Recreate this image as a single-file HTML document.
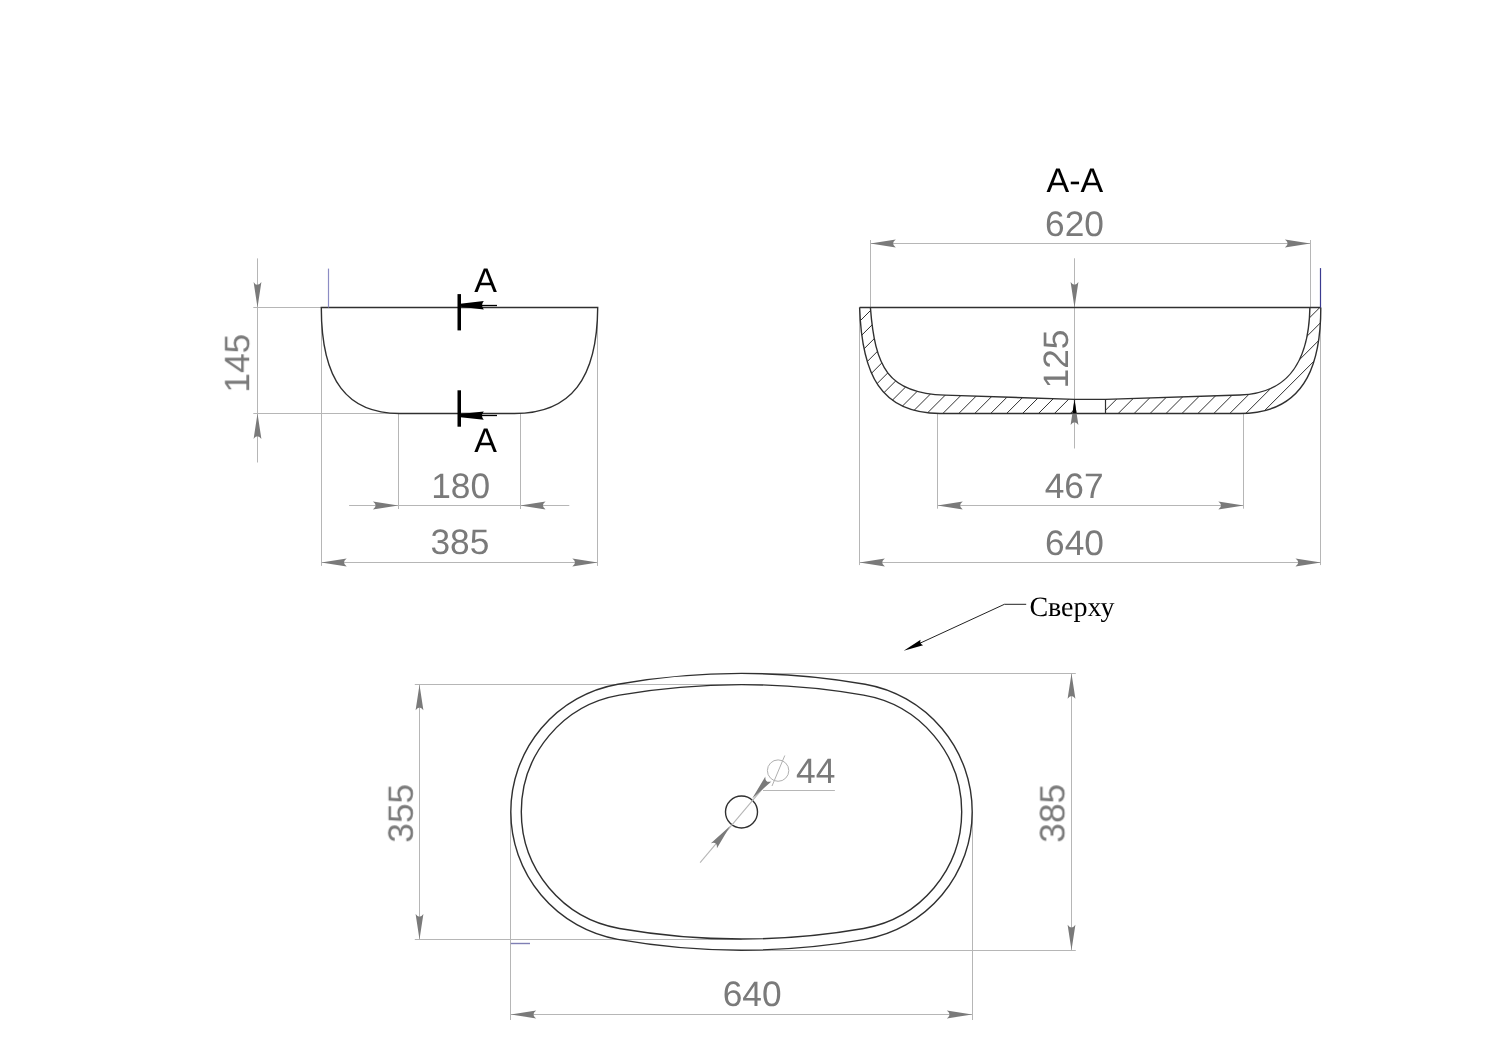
<!DOCTYPE html>
<html><head><meta charset="utf-8"><title>Drawing</title>
<style>html,body{margin:0;padding:0;background:#fff;width:1489px;height:1052px;overflow:hidden;font-family:"Liberation Sans",sans-serif}svg{display:block}</style>
</head><body>
<svg width="1489" height="1052" viewBox="0 0 1489 1052" text-rendering="geometricPrecision">
<line x1="253.3" y1="307.5" x2="321.3" y2="307.5" stroke="#b6b6b6" stroke-width="1.0"/>
<line x1="253.3" y1="413.5" x2="396" y2="413.5" stroke="#b6b6b6" stroke-width="1.0"/>
<line x1="257.5" y1="258.4" x2="257.5" y2="462.5" stroke="#b6b6b6" stroke-width="1.0"/>
<path d="M257.5,307.5 L253.6,282.1 Q257.5,287.6 261.4,282.1 Z" fill="#7a7a7a"/>
<path d="M257.5,413.5 L261.4,438.9 Q257.5,433.4 253.6,438.9 Z" fill="#7a7a7a"/>
<line x1="398.5" y1="413.5" x2="398.5" y2="509" stroke="#b6b6b6" stroke-width="1.0"/>
<line x1="520.5" y1="413.5" x2="520.5" y2="509" stroke="#b6b6b6" stroke-width="1.0"/>
<line x1="349.1" y1="505.5" x2="569.3" y2="505.5" stroke="#b6b6b6" stroke-width="1.0"/>
<path d="M398.3,505.5 L372.9,509.4 Q378.4,505.5 372.9,501.6 Z" fill="#7a7a7a"/>
<path d="M520.2,505.5 L545.6,501.6 Q540.1,505.5 545.6,509.4 Z" fill="#7a7a7a"/>
<line x1="321.5" y1="307.5" x2="321.5" y2="565.9" stroke="#b6b6b6" stroke-width="1.0"/>
<line x1="597.5" y1="307.5" x2="597.5" y2="565.9" stroke="#b6b6b6" stroke-width="1.0"/>
<line x1="321.3" y1="562.5" x2="597.7" y2="562.5" stroke="#b6b6b6" stroke-width="1.0"/>
<path d="M321.3,562.5 L346.7,558.6 Q341.2,562.5 346.7,566.4 Z" fill="#7a7a7a"/>
<path d="M597.7,562.5 L572.3,566.4 Q577.8,562.5 572.3,558.6 Z" fill="#7a7a7a"/>
<path d="M321.3,307.5 L597.7,307.5 C597.25,378.33 571.32,413.5 514.37,413.5 L399.51,413.5 C347.6,413.5 321.3,381.34 321.3,307.5 Z" fill="none" stroke="#303030" stroke-width="1.4"/>
<line x1="328.5" y1="268.6" x2="328.5" y2="307.5" stroke="#8c8cc4" stroke-width="1.2"/>
<rect x="457.5" y="294.1" width="3.5" height="36.3" fill="#000"/>
<path d="M458,303.9 L483.8,301 Q480.3,305.2 483.8,309.4 L458,306.5 Z" fill="#000"/>
<line x1="478" y1="305.5" x2="497" y2="305.5" stroke="#000" stroke-width="1.3"/>
<rect x="457.5" y="390.3" width="3.5" height="36.4" fill="#000"/>
<path d="M458,414.3 L483.8,411.4 Q480.3,415.6 483.8,419.8 L458,416.9 Z" fill="#000"/>
<line x1="478" y1="415.5" x2="497" y2="415.5" stroke="#000" stroke-width="1.3"/>
<line x1="870.5" y1="240" x2="870.5" y2="307.5" stroke="#b6b6b6" stroke-width="1.0"/>
<line x1="1310.5" y1="240" x2="1310.5" y2="307.5" stroke="#b6b6b6" stroke-width="1.0"/>
<line x1="870.4" y1="243.5" x2="1310.3" y2="243.5" stroke="#b6b6b6" stroke-width="1.0"/>
<path d="M870.4,243.5 L895.8,239.6 Q890.3,243.5 895.8,247.4 Z" fill="#7a7a7a"/>
<path d="M1310.3,243.5 L1284.9,247.4 Q1290.4,243.5 1284.9,239.6 Z" fill="#7a7a7a"/>
<line x1="859.5" y1="307.5" x2="859.5" y2="565.1" stroke="#b6b6b6" stroke-width="1.0"/>
<line x1="1320.5" y1="307.5" x2="1320.5" y2="565.1" stroke="#b6b6b6" stroke-width="1.0"/>
<line x1="859.5" y1="562.5" x2="1320.9" y2="562.5" stroke="#b6b6b6" stroke-width="1.0"/>
<path d="M859.5,562.5 L884.9,558.6 Q879.4,562.5 884.9,566.4 Z" fill="#7a7a7a"/>
<path d="M1320.9,562.5 L1295.5,566.4 Q1301,562.5 1295.5,558.6 Z" fill="#7a7a7a"/>
<line x1="937.5" y1="413.3" x2="937.5" y2="508.7" stroke="#b6b6b6" stroke-width="1.0"/>
<line x1="1243.5" y1="413.3" x2="1243.5" y2="508.7" stroke="#b6b6b6" stroke-width="1.0"/>
<line x1="937.4" y1="505.5" x2="1243.7" y2="505.5" stroke="#b6b6b6" stroke-width="1.0"/>
<path d="M937.4,505.5 L962.8,501.6 Q957.3,505.5 962.8,509.4 Z" fill="#7a7a7a"/>
<path d="M1243.7,505.5 L1218.3,509.4 Q1223.8,505.5 1218.3,501.6 Z" fill="#7a7a7a"/>
<line x1="1074.5" y1="258.3" x2="1074.5" y2="448.5" stroke="#b6b6b6" stroke-width="1.0"/>
<path d="M1074.5,307.5 L1070.6,282.1 Q1074.5,287.6 1078.4,282.1 Z" fill="#7a7a7a"/>
<clipPath id="sec"><path d="M859.6,307.5 C861.89,374.1 880.16,413.5 940,413.5 L1240,413.5 C1311.29,413.5 1320.8,353.76 1320.8,307.5 L1309.9,307.5 C1308.7,369.72 1282,393.74 1240,395 L1105.6,399.4 L1074.7,399.4 L945,395.1 C887.65,393.38 875.03,367.26 870.4,307.5 Z"/></clipPath>
<g clip-path="url(#sec)"><path d="M761,420 L891,290 M776.94,420 L906.94,290 M792.88,420 L922.88,290 M808.82,420 L938.82,290 M824.76,420 L954.76,290 M840.7,420 L970.7,290 M856.64,420 L986.64,290 M872.58,420 L1002.58,290 M888.52,420 L1018.52,290 M904.46,420 L1034.46,290 M920.4,420 L1050.4,290 M936.34,420 L1066.34,290 M952.28,420 L1082.28,290 M968.22,420 L1098.22,290 M984.16,420 L1114.16,290 M1000.1,420 L1130.1,290 M1016.04,420 L1146.04,290 M1031.98,420 L1161.98,290 M1047.92,420 L1177.92,290 M1063.86,420 L1193.86,290 M1079.8,420 L1209.8,290 M1095.74,420 L1225.74,290 M1111.68,420 L1241.68,290 M1127.62,420 L1257.62,290 M1143.56,420 L1273.56,290 M1159.5,420 L1289.5,290 M1175.44,420 L1305.44,290 M1191.38,420 L1321.38,290 M1207.32,420 L1337.32,290 M1223.26,420 L1353.26,290 M1239.2,420 L1369.2,290 M1255.14,420 L1385.14,290 M1271.08,420 L1401.08,290 M1287.02,420 L1417.02,290 M1302.96,420 L1432.96,290 M1318.9,420 L1448.9,290 M1334.84,420 L1464.84,290 M1350.78,420 L1480.78,290 M1366.72,420 L1496.72,290 M1382.66,420 L1512.66,290" stroke="#262626" stroke-width="0.95" fill="none"/><rect x="1074.7" y="380" width="30.9" height="40" fill="#fff"/></g>
<path d="M859.6,307.5 C861.89,374.1 880.16,413.5 940,413.5 L1240,413.5 C1311.29,413.5 1320.8,353.76 1320.8,307.5" fill="none" stroke="#303030" stroke-width="1.4"/>
<path d="M870.4,307.5 C875.03,367.26 887.65,393.38 945,395.1 L1074.7,399.4 L1105.6,399.4 L1240,395 C1282,393.74 1308.7,369.72 1309.9,307.5" fill="none" stroke="#303030" stroke-width="1.4"/>
<line x1="859.6" y1="307.5" x2="1320.8" y2="307.5" stroke="#303030" stroke-width="1.4"/>
<line x1="1105.5" y1="399.4" x2="1105.5" y2="413.5" stroke="#303030" stroke-width="1.2"/>
<line x1="1074.5" y1="399.4" x2="1074.5" y2="413.5" stroke="#303030" stroke-width="1.2"/>
<path d="M1074.5,399.6 L1078.4,425 Q1074.5,419.5 1070.6,425 Z" fill="#7a7a7a"/>
<clipPath id="slab"><rect x="1060" y="395" width="30" height="18.6"/></clipPath><g clip-path="url(#slab)"><path d="M1074.5,399.6 L1078.4,425 Q1074.5,419.5 1070.6,425 Z" fill="#000"/></g>
<line x1="1320.5" y1="268.1" x2="1320.5" y2="307.5" stroke="#3a3a90" stroke-width="1.2"/>
<polyline points="1026.2,604.3 1004.4,604.3 915,645.5" fill="none" stroke="#222" stroke-width="1"/>
<path d="M903.7,650.8 L920.6,639.69 Q919.13,643.67 923.11,645.13 Z" fill="#000"/>
<line x1="414.8" y1="684.5" x2="741.5" y2="684.5" stroke="#b6b6b6" stroke-width="1.0"/>
<line x1="414.8" y1="939.5" x2="741.5" y2="939.5" stroke="#b6b6b6" stroke-width="1.0"/>
<line x1="419.5" y1="684.8" x2="419.5" y2="939.4" stroke="#b6b6b6" stroke-width="1.0"/>
<path d="M419.5,684.8 L423.4,710.2 Q419.5,704.7 415.6,710.2 Z" fill="#7a7a7a"/>
<path d="M419.5,939.4 L415.6,914 Q419.5,919.5 423.4,914 Z" fill="#7a7a7a"/>
<line x1="741.5" y1="673.5" x2="1075.8" y2="673.5" stroke="#b6b6b6" stroke-width="1.0"/>
<line x1="741.5" y1="950.5" x2="1075.8" y2="950.5" stroke="#b6b6b6" stroke-width="1.0"/>
<line x1="1071.5" y1="673.4" x2="1071.5" y2="950.2" stroke="#b6b6b6" stroke-width="1.0"/>
<path d="M1071.5,673.4 L1075.4,698.8 Q1071.5,693.3 1067.6,698.8 Z" fill="#7a7a7a"/>
<path d="M1071.5,950.2 L1067.6,924.8 Q1071.5,930.3 1075.4,924.8 Z" fill="#7a7a7a"/>
<line x1="510.5" y1="811.8" x2="510.5" y2="1020" stroke="#b6b6b6" stroke-width="1.0"/>
<line x1="972.5" y1="811.8" x2="972.5" y2="1020" stroke="#b6b6b6" stroke-width="1.0"/>
<line x1="510.8" y1="1014.5" x2="972.2" y2="1014.5" stroke="#b6b6b6" stroke-width="1.0"/>
<path d="M510.8,1014.5 L536.2,1010.6 Q530.7,1014.5 536.2,1018.4 Z" fill="#7a7a7a"/>
<path d="M972.2,1014.5 L946.8,1018.4 Q952.3,1014.5 946.8,1010.6 Z" fill="#7a7a7a"/>
<line x1="510.8" y1="943.5" x2="530" y2="943.5" stroke="#7f7fb4" stroke-width="1.4"/>
<path d="M741.5,673.4 A712.02,712.02 0 0 0 617.85,684.22 A129.55,129.55 0 0 0 510.8,811.8 A129.55,129.55 0 0 0 617.85,939.38 A712.02,712.02 0 0 0 741.5,950.2 A712.02,712.02 0 0 0 865.15,939.38 A129.55,129.55 0 0 0 972.2,811.8 A129.55,129.55 0 0 0 865.15,684.22 A712.02,712.02 0 0 0 741.5,673.4 Z" fill="none" stroke="#303030" stroke-width="1.4"/>
<path d="M741.5,684.6 A712.18,712.18 0 0 0 619.41,695.14 A118.41,118.41 0 0 0 521.3,811.8 A118.41,118.41 0 0 0 619.41,928.46 A712.18,712.18 0 0 0 741.5,939 A712.18,712.18 0 0 0 863.59,928.46 A118.41,118.41 0 0 0 961.7,811.8 A118.41,118.41 0 0 0 863.59,695.14 A712.18,712.18 0 0 0 741.5,684.6 Z" fill="none" stroke="#303030" stroke-width="1.4"/>
<circle cx="741.5" cy="812" r="16" fill="none" stroke="#303030" stroke-width="1.4"/>
<line x1="700.1" y1="862.6" x2="766" y2="784.5" stroke="#b6b6b6" stroke-width="1.1"/>
<path d="M730.1,826.1 L716.95,848.18 Q717.44,841.46 710.93,843.22 Z" fill="#7a7a7a"/>
<path d="M752.2,798.6 L765.35,776.52 Q764.86,783.24 771.37,781.48 Z" fill="#7a7a7a"/>
<line x1="763" y1="790.5" x2="834.9" y2="790.5" stroke="#b6b6b6" stroke-width="1.0"/>
<circle cx="778.1" cy="770.6" r="10.7" fill="none" stroke="#b0b0b0" stroke-width="1"/>
<line x1="784.8" y1="755.5" x2="772" y2="786" stroke="#b0b0b0" stroke-width="1"/>
<g style="filter:grayscale(1)">
<text transform="translate(249.2,363.2) rotate(-90)" x="0" y="0" font-size="35.3" fill="#7a7a7a" text-anchor="middle" font-family="Liberation Sans, sans-serif">145</text>
<text x="460.7" y="498.3" font-size="35.3" fill="#7a7a7a" text-anchor="middle" font-family="Liberation Sans, sans-serif">180</text>
<text x="459.9" y="554.4" font-size="35.3" fill="#7a7a7a" text-anchor="middle" font-family="Liberation Sans, sans-serif">385</text>
<text x="485.6" y="291.5" font-size="34" fill="#000" text-anchor="middle" font-family="Liberation Sans, sans-serif">A</text>
<text x="485.6" y="452.4" font-size="34" fill="#000" text-anchor="middle" font-family="Liberation Sans, sans-serif">A</text>
<text x="1074.8" y="191.6" font-size="34" fill="#000" text-anchor="middle" font-family="Liberation Sans, sans-serif">A-A</text>
<text x="1074.5" y="236.4" font-size="35.3" fill="#7a7a7a" text-anchor="middle" font-family="Liberation Sans, sans-serif">620</text>
<text x="1074.5" y="554.9" font-size="35.3" fill="#7a7a7a" text-anchor="middle" font-family="Liberation Sans, sans-serif">640</text>
<text x="1074.1" y="498.4" font-size="35.3" fill="#7a7a7a" text-anchor="middle" font-family="Liberation Sans, sans-serif">467</text>
<text transform="translate(1067.6,359) rotate(-90)" x="0" y="0" font-size="35.3" fill="#7a7a7a" text-anchor="middle" font-family="Liberation Sans, sans-serif">125</text>
<text x="1029.4" y="616.4" font-size="28" fill="#000" text-anchor="start" font-family="Liberation Serif, sans-serif">Сверху</text>
<text transform="translate(412.8,813.3) rotate(-90)" x="0" y="0" font-size="35.3" fill="#7a7a7a" text-anchor="middle" font-family="Liberation Sans, sans-serif">355</text>
<text transform="translate(1064.4,813.3) rotate(-90)" x="0" y="0" font-size="35.3" fill="#7a7a7a" text-anchor="middle" font-family="Liberation Sans, sans-serif">385</text>
<text x="752.2" y="1005.6" font-size="35.3" fill="#7a7a7a" text-anchor="middle" font-family="Liberation Sans, sans-serif">640</text>
<text x="796" y="783" font-size="35.3" fill="#7a7a7a" text-anchor="start" font-family="Liberation Sans, sans-serif">44</text>
</g>
</svg>
</body></html>
